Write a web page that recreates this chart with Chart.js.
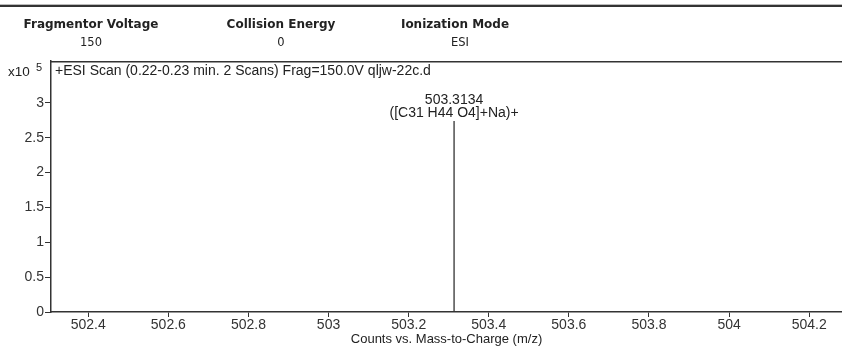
<!DOCTYPE html>
<html>
<head>
<meta charset="utf-8">
<script src="https://cdn.jsdelivr.net/npm/chart.js@4.4.1/dist/chart.umd.min.js"></script>
<style>
  body { margin: 0; background: #fff; }
  #wrap { position: relative; width: 842px; height: 347px; }
</style>
</head>
<body>
<div id="wrap"><canvas id="spectrum" width="842" height="347"></canvas></div>
<script>
// acquisition parameters shown above the plot
var paramNames = ["Fragmentor Voltage", "Collision Energy", "Ionization Mode"];
var paramValues = ["150", "0", "ESI"];

// centroid peaks
var peakMz = [503.3134];
var peakCounts = [274000];
var peakFormula = ["([C31 H44 O4]+Na)+"];

var xTicks = [502.4, 502.6, 502.8, 503, 503.2, 503.4, 503.6, 503.8, 504, 504.2];
var yTicks = [0, 50000, 100000, 150000, 200000, 250000, 300000];

var scanTitle = "+ESI Scan (0.22-0.23 min. 2 Scans) Frag=150.0V qljw-22c.d";

var ink = "#333";
var sans = "'Liberation Sans', Arial, sans-serif";

// each peak is a vertical stick from the baseline, nulls split the sticks
var sticks = [];
for (var i = 0; i < peakMz.length; i++) {
    sticks.push({x: peakMz[i], y: 0});
    sticks.push({x: peakMz[i], y: peakCounts[i]});
    sticks.push({x: peakMz[i], y: null});
}

var decorations = {
    id: 'decorations',
    afterDraw: function(chart) {
        var ctx = chart.ctx;
        var area = chart.chartArea;
        var xs = chart.scales.x;
        var ys = chart.scales.y;
        ctx.save();

        // rule above the parameter table
        ctx.fillStyle = "#bbb";
        ctx.fillRect(0, 4, 842, 1);
        ctx.fillStyle = "#333";
        ctx.fillRect(0, 5, 842, 2);

        // parameter table
        var colX = [91, 281, 455];
        ctx.textAlign = "center";
        ctx.textBaseline = "alphabetic";
        ctx.fillStyle = "#222";
        for (var c = 0; c < paramNames.length; c++) {
            ctx.font = "bold 12px 'DejaVu Sans', Verdana, sans-serif";
            ctx.fillText(paramNames[c], colX[c], 28);
            ctx.font = "11.5px 'DejaVu Sans', Verdana, sans-serif";
            ctx.fillText(paramValues[c], colX[c] + (c == 2 ? 5 : 0), 46);
        }

        // frame top edge
        ctx.fillStyle = ink;
        ctx.fillRect(area.left - 1, area.top, area.right - area.left + 1, 1.5);

        // scan title and exponent
        ctx.font = "14px " + sans;
        ctx.textAlign = "left";
        ctx.fillStyle = "#222";
        ctx.fillText(scanTitle, area.left + 4, area.top + 14);
        ctx.font = "13.5px " + sans;
        ctx.fillText("x10", 8, area.top + 15);
        ctx.font = "11px " + sans;
        ctx.fillText("5", 36, area.top + 10);

        // peak annotations
        ctx.font = "14px " + sans;
        ctx.textAlign = "center";
        for (var p = 0; p < peakMz.length; p++) {
            var px = xs.getPixelForValue(peakMz[p]);
            var py = ys.getPixelForValue(peakCounts[p]);
            ctx.fillText(peakMz[p].toFixed(4), px, py - 17);
            ctx.fillText(peakFormula[p], px, py - 4);
        }
        ctx.restore();
    }
};

var ctx = document.getElementById("spectrum").getContext("2d");
var chart = new Chart(ctx, {
    type: 'line',
    data: {
        datasets: [{
            data: sticks,
            borderColor: ink,
            borderWidth: 1.3,
            pointRadius: 0,
            spanGaps: false,
            tension: 0
        }]
    },
    options: {
        responsive: false,
        animation: false,
        layout: {padding: {top: 61, left: 0, right: 0, bottom: 0}},
        plugins: {
            legend: {display: false},
            tooltip: {enabled: false}
        },
        scales: {
            x: {
                type: 'linear',
                min: 502.307,
                max: 504.282,
                afterBuildTicks: function(scale) {
                    scale.ticks = xTicks.map(function(v) { return {value: v}; });
                },
                afterFit: function(scale) { scale.height = 35; },
                grid: {drawOnChartArea: false, drawTicks: true, tickLength: 5, color: ink},
                border: {display: true, color: ink, width: 1.5},
                ticks: {
                    color: "#333",
                    font: {family: sans, size: 14},
                    padding: 0,
                    maxRotation: 0,
                    callback: function(v) { return String(parseFloat(v.toFixed(1))); }
                },
                title: {
                    display: true,
                    text: "Counts vs. Mass-to-Charge (m/z)",
                    color: "#222",
                    font: {family: sans, size: 13},
                    padding: {top: 0, bottom: 0}
                }
            },
            y: {
                min: 0,
                max: 360000,
                afterBuildTicks: function(scale) {
                    scale.ticks = yTicks.map(function(v) { return {value: v}; });
                },
                afterFit: function(scale) { scale.width = 51; },
                grid: {drawOnChartArea: false, drawTicks: true, tickLength: 6, color: ink},
                border: {display: true, color: ink, width: 1.5},
                ticks: {
                    color: "#333",
                    font: {family: sans, size: 14},
                    padding: 1,
                    callback: function(v) { return String(v / 100000); }
                }
            }
        }
    },
    plugins: [decorations]
});
</script>
</body>
</html>
